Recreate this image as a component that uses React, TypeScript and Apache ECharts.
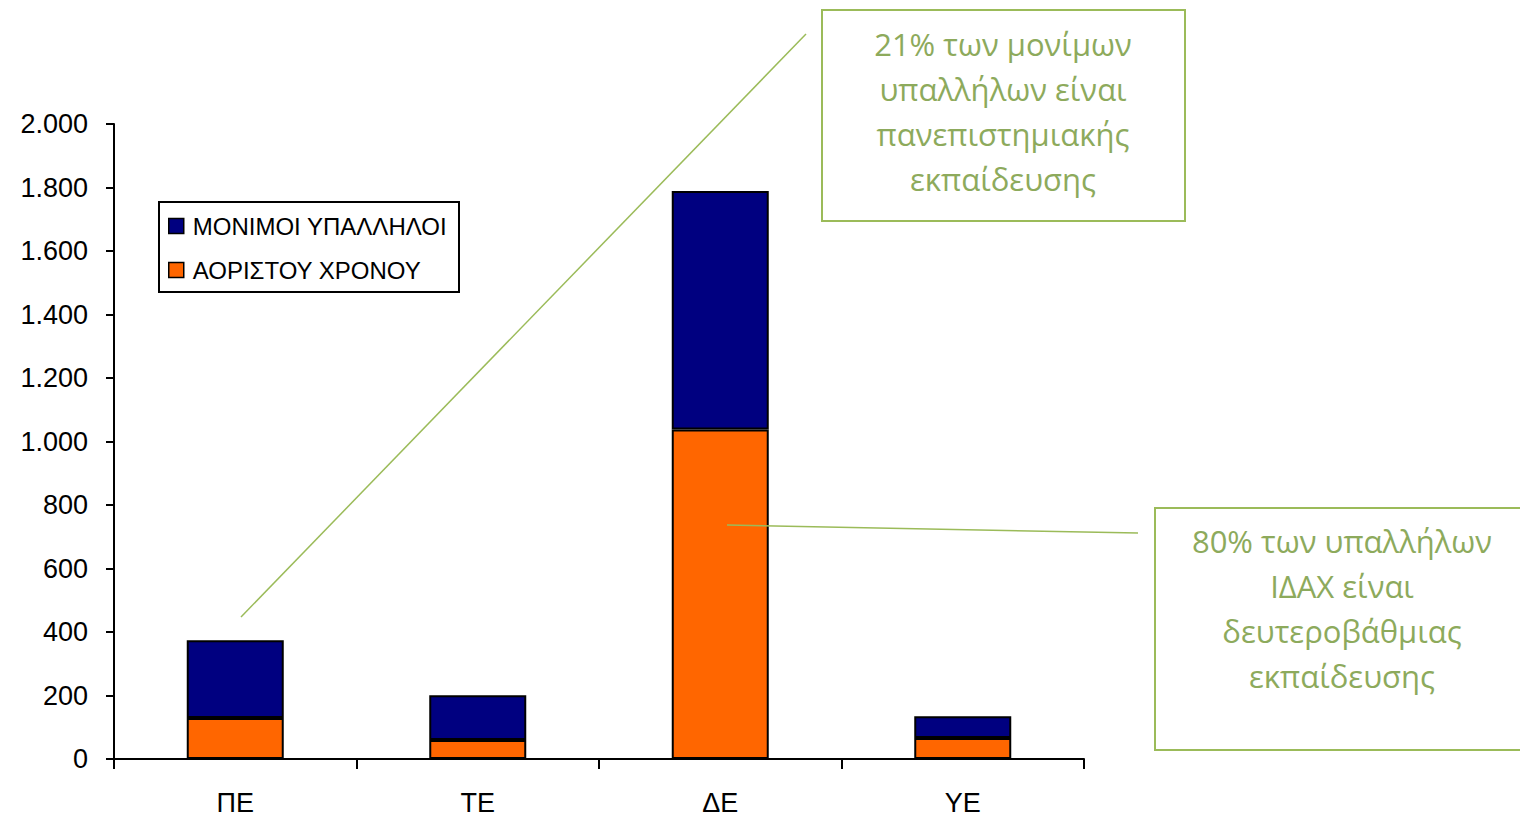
import React, { useEffect, useRef } from "react";
import * as echarts from "echarts";

const categories = ["ΠΕ", "ΤΕ", "ΔΕ", "ΥΕ"];
const permanentName = "ΜΟΝΙΜΟΙ ΥΠΑΛΛΗΛΟΙ";
const indefiniteName = "ΑΟΡΙΣΤΟΥ ΧΡΟΝΟΥ";
const indefiniteValues = [129, 60, 1038, 66];
const permanentValues = [245, 141, 751, 69];
const yTicks = [0, 200, 400, 600, 800, 1000, 1200, 1400, 1600, 1800, 2000];
const note1Lines = ["21% των μονίμων", "υπαλλήλων είναι", "πανεπιστημιακής", "εκπαίδευσης"];
const note2Lines = ["80% των υπαλλήλων", "ΙΔΑΧ είναι", "δευτεροβάθμιας", "εκπαίδευσης"];

const GREEN = "#9BBB59";
const TEXT_GREEN = "#8DAA5C";
const AXIS_FONT = "'Liberation Sans', Arial, sans-serif";
const NOTE_FONT = "'Open Sans', 'Noto Sans', sans-serif";

function fmt(v: number): string {
  return String(v).replace(/\B(?=(\d{3})+(?!\d))/g, ".");
}

export default function App() {
  const ref = useRef<HTMLDivElement>(null);
  useEffect(() => {
    if (!ref.current) return;
    const chart = echarts.init(ref.current, null, { renderer: "svg" });
    chart.setOption({
      animation: false,
      backgroundColor: "#ffffff",
      grid: { left: 114, right: 436, top: 124, bottom: 56, containLabel: false },
      legend: {
        orient: "vertical",
        left: 168,
        top: 214,
        padding: 0,
        itemGap: 20,
        itemWidth: 15,
        itemHeight: 15,
        icon: "rect",
        data: [permanentName, indefiniteName],
        textStyle: {
          fontFamily: AXIS_FONT,
          fontSize: 24,
          lineHeight: 22,
          color: "#000",
          padding: [0, 0, 0, 4],
        },
        itemStyle: { borderColor: "#000", borderWidth: 1.5 },
      },
      xAxis: {
        type: "category",
        data: categories,
        axisLine: { lineStyle: { color: "#000", width: 2 } },
        axisTick: { show: true, length: 10, lineStyle: { color: "#000", width: 2 } },
        axisLabel: { margin: 30, fontFamily: AXIS_FONT, fontSize: 27, color: "#000" },
        splitLine: { show: false },
      },
      yAxis: {
        type: "value",
        min: 0,
        max: yTicks[yTicks.length - 1],
        interval: yTicks[1] - yTicks[0],
        axisLine: { show: true, lineStyle: { color: "#000", width: 2 } },
        axisTick: { show: true, length: 8, lineStyle: { color: "#000", width: 2 } },
        axisLabel: {
          margin: 26,
          fontFamily: AXIS_FONT,
          fontSize: 27,
          color: "#000",
          formatter: (v: number) => fmt(v),
        },
        splitLine: { show: false },
      },
      series: [
        {
          name: indefiniteName,
          type: "bar",
          stack: "total",
          barWidth: 97,
          data: indefiniteValues,
          itemStyle: { color: "#FF6600", borderColor: "#000", borderWidth: 2 },
        },
        {
          name: permanentName,
          type: "bar",
          stack: "total",
          barWidth: 97,
          data: permanentValues,
          itemStyle: { color: "#000080", borderColor: "#000", borderWidth: 2 },
        },
      ],
      graphic: [
        {
          type: "rect",
          shape: { x: 159, y: 202, width: 300, height: 90 },
          style: { fill: "none", stroke: "#000", lineWidth: 2 },
          z: 10,
        },
        {
          type: "line",
          shape: { x1: 241, y1: 617, x2: 806, y2: 34 },
          style: { stroke: GREEN, lineWidth: 1.5 },
          z: 10,
        },
        {
          type: "line",
          shape: { x1: 727, y1: 525, x2: 1138, y2: 533 },
          style: { stroke: GREEN, lineWidth: 1.5 },
          z: 10,
        },
        {
          type: "rect",
          shape: { x: 822, y: 10, width: 363, height: 211 },
          style: { fill: "#fff", stroke: GREEN, lineWidth: 2 },
          z: 10,
        },
        {
          type: "text",
          x: 1003,
          y: 21,
          style: {
            text: note1Lines.join("\n"),
            align: "center",
            verticalAlign: "top",
            fontFamily: NOTE_FONT,
            fontSize: 31,
            lineHeight: 45,
            fill: TEXT_GREEN,
          },
          z: 11,
        },
        {
          type: "rect",
          shape: { x: 1155, y: 508, width: 400, height: 242 },
          style: { fill: "#fff", stroke: GREEN, lineWidth: 2 },
          z: 10,
        },
        {
          type: "text",
          x: 1342,
          y: 518,
          style: {
            text: note2Lines.join("\n"),
            align: "center",
            verticalAlign: "top",
            fontFamily: NOTE_FONT,
            fontSize: 31,
            lineHeight: 45,
            fill: TEXT_GREEN,
          },
          z: 11,
        },
      ],
    });
    return () => chart.dispose();
  }, []);
  return (
    <div
      ref={ref}
      style={{ position: "fixed", left: 0, top: 0, width: 1520, height: 816, background: "#fff" }}
    />
  );
}
